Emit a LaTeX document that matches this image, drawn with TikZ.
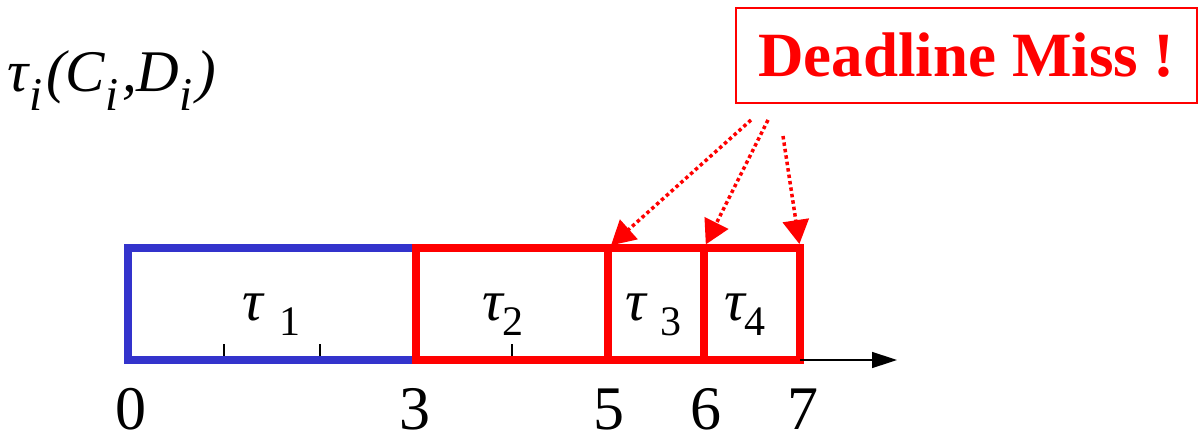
\documentclass[tikz,border=0pt]{standalone}
\usepackage{fontspec}
\setmainfont{LiberationSerif}[Extension=.ttf, UprightFont=*-Regular, BoldFont=*-Bold,
  ItalicFont=*-Italic, BoldItalicFont=*-BoldItalic]
\usetikzlibrary{arrows.meta,calc}

\definecolor{taskblue}{RGB}{51,51,204}
\definecolor{missred}{RGB}{255,0,0}

% Task symbol with a lowered index: \tsub{gap}{index}
\newcommand{\tsub}[2]{{\fontsize{58}{60}\selectfont\itshape τ}\hspace{#1}\raisebox{-15pt}{\fontsize{42}{44}\selectfont #2}}
% lowered italic index for the header
\newcommand{\hsub}{\raisebox{-19pt}{\fontsize{47}{49}\selectfont\itshape i}\hspace{4pt}}

\begin{document}
\begin{tikzpicture}[x=1pt,y=-1pt,
  every node/.style={inner sep=0pt, outer sep=0pt},
  slot/.style={draw, line width=8pt, minimum height=112pt},
  tick/.style={draw=black, line width=1.5pt},
  misslink/.style={draw=missred, line width=3.5pt, dash pattern=on 3.5pt off 3pt,
    -{Triangle[length=24pt,width=26pt]}, shorten >=4pt},
  timelabel/.style={anchor=base, font=\fontsize{62}{64}\selectfont}]
\useasboundingbox (0,0) rectangle (1200,434);

% task header
\node[anchor=base west] (hdr) at (8,91) {\fontsize{59}{61}\selectfont\itshape
  τ\hsub(C\hsub,D\hsub)};

% ticks inside the slots
\coordinate (k1) at (224,360);
\coordinate (k2) at (320,360);
\coordinate (k3) at (512,360);
\foreach \k in {k1,k2,k3} \draw[tick] (\k) -- ++(0,-16);

% schedule slots
\node[slot, draw=taskblue, minimum width=288pt] (t1) at (272,304) {};
\node[slot, draw=missred, minimum width=192pt] (t2) at (512,304) {};
\node[slot, draw=missred, minimum width=96pt] (t3) at (656,304) {};
\node[slot, draw=missred, minimum width=96pt] (t4) at (752,304) {};

% slot labels
\node[anchor=base west] (l1) at (242,320) {\tsub{17pt}{1}};
\node[anchor=base west] (l2) at (482,320) {\tsub{0pt}{2}};
\node[anchor=base west] (l3) at (625,320) {\tsub{15pt}{3}};
\node[anchor=base west] (l4) at (724,320) {\tsub{0pt}{4}};

% time axis
\coordinate (axend) at (897,360);
\draw[line width=1.5pt, -{Triangle[length=25pt,width=16pt]}] (t4.south east) -- (axend);

% time labels
\node[timelabel] (n0) at (131,429) {0};
\node[timelabel] (n3) at (415,429) {3};
\node[timelabel] (n5) at (609,429) {5};
\node[timelabel] (n6) at (706,429) {6};
\node[timelabel] (n7) at (803,429) {7};

% deadline miss callout
\node[draw=missred, line width=1.6pt, text=missred, minimum width=461pt, minimum height=95pt,
  font=\fontsize{63}{65}\selectfont\bfseries] (dm) at (966.5,55.5) {\raisebox{-3pt}{Deadline Miss !}};
\coordinate (s1) at (751,120);
\coordinate (s2) at (768,120);
\coordinate (s3) at (783,136);
\draw[misslink] (s1) -- (t3.north west);
\draw[misslink] (s2) -- (t4.north west);
\draw[misslink] (s3) -- (t4.north east);
\end{tikzpicture}
\end{document}
